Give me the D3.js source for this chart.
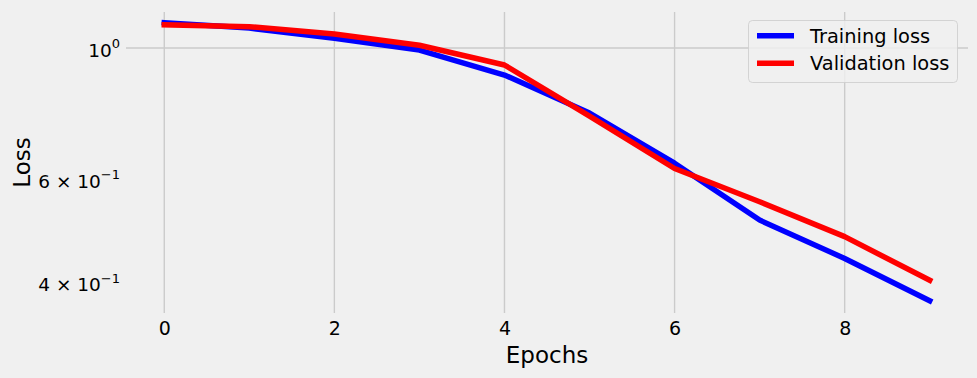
<!DOCTYPE html>
<html>
<head>
<meta charset="utf-8">
<script src="https://cdn.jsdelivr.net/npm/d3@7"></script>
<style>
  html, body { margin: 0; padding: 0; background: #f0f0f0; }
  svg { display: block; font-family: "DejaVu Sans", sans-serif; }
</style>
</head>
<body>
<svg id="chart" width="977" height="378"></svg>
<script>
// ---- data ----
const epochs = [0, 1, 2, 3, 4, 5, 6, 7, 8, 9];
const trainLoss = [1.104, 1.081, 1.039, 0.992, 0.900, 0.776, 0.638, 0.511, 0.440, 0.373];
const valLoss   = [1.095, 1.087, 1.056, 1.011, 0.936, 0.767, 0.625, 0.549, 0.479, 0.404];
const xTicks = [0, 2, 4, 6, 8];
const yMajorTicks = [1.0];
const yTickValues = [1.0, 0.6, 0.4];
const yTickBase = ["10", "6 \u00d7 10", "4 \u00d7 10"];
const yTickExp = ["0", "\u22121", "\u22121"];
const seriesNames = ["Training loss", "Validation loss"];
const seriesColors = ["#0000ff", "#ff0000"];

// ---- layout ----
const W = 977, H = 378;
const plot = { left: 126, right: 968, top: 12, bottom: 313 };
const svg = d3.select("#chart");
svg.append("rect").attr("width", W).attr("height", H).attr("fill", "#f0f0f0");

const x = d3.scaleLinear().domain([-0.45, 9.45]).range([plot.left, plot.right]);
const y = d3.scaleLog().domain([0.3556, 1.151]).range([plot.bottom, plot.top]);

// grid
const grid = svg.append("g");
grid.selectAll("line.vx").data(xTicks).enter().append("line")
  .attr("x1", d => x(d)).attr("x2", d => x(d))
  .attr("y1", plot.top).attr("y2", plot.bottom)
  .attr("stroke", "#cbcbcb").attr("stroke-width", 1.4);
grid.selectAll("line.hy").data(yMajorTicks).enter().append("line")
  .attr("x1", plot.left).attr("x2", plot.right)
  .attr("y1", d => y(d)).attr("y2", d => y(d))
  .attr("stroke", "#cbcbcb").attr("stroke-width", 1.4);

// x axis (no domain line, no ticks)
const xAxis = svg.append("g")
  .attr("transform", `translate(0,${plot.bottom})`)
  .call(d3.axisBottom(x).tickValues(xTicks).tickSize(0).tickPadding(0).tickFormat(d3.format("d")));
xAxis.select(".domain").remove();
xAxis.selectAll("text")
  .attr("font-family", "DejaVu Sans").attr("font-size", 19).attr("fill", "#000")
  .attr("dy", null).attr("y", 22);

// y tick labels (log, mathtext style)
const yl = svg.append("g");
yTickValues.forEach((v, i) => {
  const t = yl.append("text")
    .attr("x", 120).attr("y", y(v) + 8.6)
    .attr("text-anchor", "end")
    .attr("font-size", 18.5).attr("fill", "#000");
  t.append("tspan").text(yTickBase[i]);
  t.append("tspan").attr("font-size", 13).attr("dy", -8.2).text(yTickExp[i]);
});

// lines
const line = d3.line().x((d, i) => x(epochs[i])).y(d => y(d));
[trainLoss, valLoss].forEach((s, k) => {
  svg.append("path").datum(s)
    .attr("d", line)
    .attr("fill", "none")
    .attr("stroke", seriesColors[k])
    .attr("stroke-width", 5.5)
    .attr("stroke-linejoin", "round")
    .attr("stroke-linecap", "square");
});

// axis labels
svg.append("text").attr("x", (plot.left + plot.right) / 2).attr("y", 362.5)
  .attr("text-anchor", "middle").attr("font-size", 23).attr("fill", "#000").text("Epochs");
svg.append("text").attr("transform", `translate(30,${(plot.top + plot.bottom) / 2}) rotate(-90)`)
  .attr("text-anchor", "middle").attr("font-size", 23).attr("fill", "#000").text("Loss");

// legend
const lg = svg.append("g");
lg.append("rect").attr("x", 748.5).attr("y", 20.5).attr("width", 209).attr("height", 62)
  .attr("rx", 4).attr("fill", "#f0f0f0").attr("fill-opacity", 0.8)
  .attr("stroke", "#cccccc").attr("stroke-opacity", 0.8).attr("stroke-width", 1);
seriesNames.forEach((n, i) => {
  const cy = 35.7 + i * 27.6;
  lg.append("line").attr("x1", 757).attr("x2", 794).attr("y1", cy).attr("y2", cy)
    .attr("stroke", seriesColors[i]).attr("stroke-width", 5.5);
  lg.append("text").attr("x", 810).attr("y", cy + 7)
    .attr("font-size", 19.4).attr("fill", "#000").text(n);
});
</script>
</body>
</html>
